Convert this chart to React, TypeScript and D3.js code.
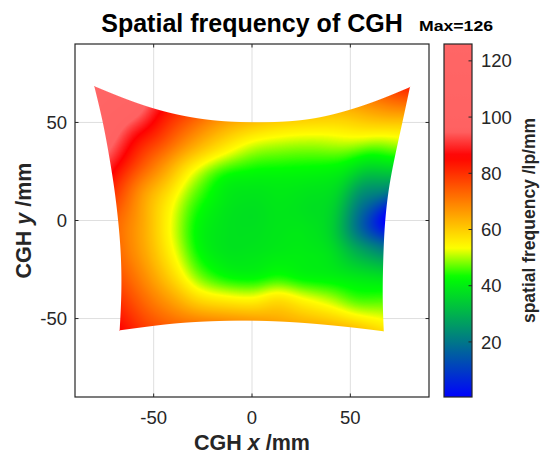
import React, { useMemo } from 'react';
import * as d3 from 'd3';

const WIDTH = 541;
const HEIGHT = 457;

// Axis limits (mm) and tick values
const xLimits = [-90, 90];
const yLimits = [-90, 90];
const xTickValues = [-50, 0, 50];
const yTickValues = [-50, 0, 50];
const colorLimits = [0.4, 126];
const colorTickValues = [20, 40, 60, 80, 100, 120];

// Hologram aperture outline (mm). Top/bottom edges run left to right,
// left/right edges run bottom to top; shared end points are the corners.
const topEdgeX = [-80.2, -64.15, -48.1, -32.05, -16.0, 0.05, 16.1, 32.15, 48.2, 64.25, 80.3];
const topEdgeY = [68.5, 61.8, 56.3, 52.6, 50.5, 50.0, 50.2, 51.8, 55.8, 61.2, 68.0];
const bottomEdgeX = [-67.3, -53.9, -40.4, -27.0, -13.6, -0.15, 13.3, 26.7, 40.1, 53.6, 67.0];
const bottomEdgeY = [-56.0, -54.2, -52.5, -51.6, -51.1, -51.0, -51.4, -52.2, -53.4, -54.8, -56.5];
const leftEdgeX = [-67.3, -66.5, -66.3, -66.8, -68.0, -70.0, -72.8, -75.9, -80.2];
const leftEdgeY = [-56.0, -42, -28, -14, 0, 17, 34, 51, 68.5];
const rightEdgeX = [67.0, 66.4, 66.5, 66.9, 67.6, 69.5, 72.9, 76.7, 80.3];
const rightEdgeY = [-56.5, -42, -28, -14, 0, 17, 34, 51, 68.0];

// Spatial frequency (lp/mm) on the aperture's parametric grid:
// rows go bottom -> top, columns left -> right.
const frequencyRows: number[][] = [
  [86, 78, 73, 70, 68, 66.5, 65, 63.5, 62.5, 61, 58],
  [80, 72, 65, 58, 55, 54, 57, 54, 51, 47, 47],
  [75, 67, 58, 48, 43, 42, 44, 42, 41, 39, 37],
  [72, 64, 54, 43, 39, 39, 40, 40, 38, 29, 20],
  [73, 64, 53, 42, 38.5, 38, 39, 39, 35, 18, 0],
  [81, 67, 56, 45, 39.5, 38, 39, 38, 36, 24, 24],
  [94, 78, 65, 52, 43, 41, 41, 41, 41, 39, 45],
  [108, 90, 77, 65, 56, 50, 48.5, 49, 52, 56, 62],
  [126, 108, 88, 76, 67, 62, 59.5, 60, 63, 71, 82],
];

// Colormap anchors
const colorStops = [0, 43, 53.5, 86, 95, 126];
const colorValues = ['#0000ff', '#00ff00', '#ffff00', '#ff0000', '#ff6262', '#ff6666'];

const PLOT = { left: 75, right: 429, top: 44, bottom: 397 };
const CBAR = { left: 444, right: 472 };

const xScale = d3.scaleLinear().domain(xLimits).range([PLOT.left, PLOT.right]);
const yScale = d3.scaleLinear().domain(yLimits).range([PLOT.bottom, PLOT.top]);
const cScale = d3.scaleLinear().domain(colorLimits).range([PLOT.bottom, PLOT.top]);
const colorScale = d3
  .scaleLinear<string>()
  .domain(colorStops)
  .range(colorValues)
  .interpolate(d3.interpolateRgb)
  .clamp(true);

// Smooth edge curve with linear continuation past its ends
function makeEdge(values: number[]) {
  const f = d3.interpolateBasis(values);
  const N = 800;
  const lut = new Float64Array(N + 1);
  for (let k = 0; k <= N; k++) lut[k] = f(k / N);
  return (t: number) => {
    if (t <= 0) return lut[0] + (lut[1] - lut[0]) * N * t;
    if (t >= 1) return lut[N] + (lut[N] - lut[N - 1]) * N * (t - 1);
    const s = t * N;
    const k = Math.min(N - 1, Math.floor(s));
    return lut[k] + (lut[k + 1] - lut[k]) * (s - k);
  };
}

function gridValue(i: number, j: number): number {
  const nR = frequencyRows.length;
  const nC = frequencyRows[0].length;
  if (i < 0) return 2 * gridValue(0, j) - gridValue(1, j);
  if (i > nC - 1) return 2 * gridValue(nC - 1, j) - gridValue(nC - 2, j);
  if (j < 0) return 2 * gridValue(i, 0) - gridValue(i, 1);
  if (j > nR - 1) return 2 * gridValue(i, nR - 1) - gridValue(i, nR - 2);
  return frequencyRows[j][i];
}

function catmull(p0: number, p1: number, p2: number, p3: number, t: number) {
  return 0.5 * (2 * p1 + (-p0 + p2) * t + (2 * p0 - 5 * p1 + 4 * p2 - p3) * t * t + (-p0 + 3 * p1 - 3 * p2 + p3) * t * t * t);
}

function frequencyAt(u: number, v: number) {
  const nR = frequencyRows.length;
  const nC = frequencyRows[0].length;
  const s = u * (nC - 1);
  const t = v * (nR - 1);
  const i = Math.max(0, Math.min(nC - 2, Math.floor(s)));
  const j = Math.max(0, Math.min(nR - 2, Math.floor(t)));
  const fs = s - i;
  const ft = t - j;
  const col: number[] = [];
  for (let dj = -1; dj <= 2; dj++) {
    col.push(catmull(gridValue(i - 1, j + dj), gridValue(i, j + dj), gridValue(i + 1, j + dj), gridValue(i + 2, j + dj), fs));
  }
  return catmull(col[0], col[1], col[2], col[3], ft);
}

function renderSurface(): string {
  const w = PLOT.right - PLOT.left;
  const h = PLOT.bottom - PLOT.top;
  const canvas = document.createElement('canvas');
  canvas.width = w;
  canvas.height = h;
  const ctx = canvas.getContext('2d');
  if (!ctx) return '';
  const image = ctx.createImageData(w, h);
  const px = image.data;

  const TX = makeEdge(topEdgeX.map((d) => xScale(d)));
  const TY = makeEdge(topEdgeY.map((d) => yScale(d)));
  const BX = makeEdge(bottomEdgeX.map((d) => xScale(d)));
  const BY = makeEdge(bottomEdgeY.map((d) => yScale(d)));
  const LX = makeEdge(leftEdgeX.map((d) => xScale(d)));
  const LY = makeEdge(leftEdgeY.map((d) => yScale(d)));
  const RX = makeEdge(rightEdgeX.map((d) => xScale(d)));
  const RY = makeEdge(rightEdgeY.map((d) => yScale(d)));
  const c00 = [BX(0), BY(0)];
  const c10 = [BX(1), BY(1)];
  const c01 = [TX(0), TY(0)];
  const c11 = [TX(1), TY(1)];

  // Coons patch through the four edges (screen coordinates)
  const patch = (u: number, v: number): [number, number] => {
    const a = (1 - u) * (1 - v), b = u * (1 - v), c = (1 - u) * v, d = u * v;
    const x = (1 - v) * BX(u) + v * TX(u) + (1 - u) * LX(v) + u * RX(v) - (a * c00[0] + b * c10[0] + c * c01[0] + d * c11[0]);
    const y = (1 - v) * BY(u) + v * TY(u) + (1 - u) * LY(v) + u * RY(v) - (a * c00[1] + b * c10[1] + c * c01[1] + d * c11[1]);
    return [x, y];
  };

  // Colour lookup table
  const LUTN = 1024;
  const lutR = new Uint8Array(LUTN + 1), lutG = new Uint8Array(LUTN + 1), lutB = new Uint8Array(LUTN + 1);
  for (let k = 0; k <= LUTN; k++) {
    const c = d3.rgb(colorScale(colorLimits[0] + ((colorLimits[1] - colorLimits[0]) * k) / LUTN));
    lutR[k] = c.r; lutG[k] = c.g; lutB[k] = c.b;
  }

  const hd = 1e-4;
  const gx0 = xScale(-74), gx1 = xScale(74), gy0 = yScale(-54), gy1 = yScale(60);
  for (let row = 0; row < h; row++) {
    let u = 0.5, v = 0.5, warm = false;
    for (let col = 0; col < w; col++) {
      const X = PLOT.left + col + 0.5;
      const Y = PLOT.top + row + 0.5;
      if (!warm) {
        u = (X - gx0) / (gx1 - gx0);
        v = (Y - gy0) / (gy1 - gy0);
      }
      let conv = false;
      let xu = 1, xv = 0, yu = 0, yv = 1, det = 1;
      for (let it = 0; it < 14; it++) {
        const p = patch(u, v);
        const pu = patch(u + hd, v);
        const pv = patch(u, v + hd);
        xu = (pu[0] - p[0]) / hd; yu = (pu[1] - p[1]) / hd;
        xv = (pv[0] - p[0]) / hd; yv = (pv[1] - p[1]) / hd;
        det = xu * yv - xv * yu;
        const dx = X - p[0], dy = Y - p[1];
        if (Math.abs(dx) + Math.abs(dy) < 1e-3) { conv = true; break; }
        if (!isFinite(det) || Math.abs(det) < 1e-9) break;
        u += (yv * dx - xv * dy) / det;
        v += (-yu * dx + xu * dy) / det;
        if (Math.abs(u - 0.5) > 1.5 || Math.abs(v - 0.5) > 1.5) break;
      }
      const idx = (row * w + col) * 4;
      if (!conv) { warm = false; px[idx + 3] = 0; continue; }
      warm = Math.abs(u - 0.5) < 0.9 && Math.abs(v - 0.5) < 0.9;
      const adet = Math.abs(det);
      const gu = Math.hypot(yv, xv) / adet;
      const gv = Math.hypot(yu, xu) / adet;
      const dist = Math.min(u / gu, (1 - u) / gu, v / gv, (1 - v) / gv);
      const alpha = Math.max(0, Math.min(1, dist + 0.5));
      if (alpha <= 0) { px[idx + 3] = 0; continue; }
      const uc = Math.max(0, Math.min(1, u));
      const vc = Math.max(0, Math.min(1, v));
      const f = frequencyAt(uc, vc);
      let k = Math.round(((f - colorLimits[0]) / (colorLimits[1] - colorLimits[0])) * LUTN);
      k = Math.max(0, Math.min(LUTN, k));
      px[idx] = lutR[k];
      px[idx + 1] = lutG[k];
      px[idx + 2] = lutB[k];
      px[idx + 3] = Math.round(alpha * 255);
    }
  }
  ctx.putImageData(image, 0, 0);
  return canvas.toDataURL('image/png');
}

const FONT = "'Liberation Sans', Arial, Helvetica, sans-serif";
const AXIS_COLOR = '#262626';
const GRID_COLOR = '#dfdfdf';
const TICK_LEN = 3.5;

export default function App() {
  const surfaceHref = useMemo(() => renderSurface(), []);
  const maxValue = d3.max(frequencyRows.flat()) ?? 0;

  const gradientStops = d3.range(0, 65).map((k) => {
    const t = k / 64;
    const value = colorLimits[0] + t * (colorLimits[1] - colorLimits[0]);
    return { offset: t, color: colorScale(value) };
  });

  return (
    <svg
      width={WIDTH}
      height={HEIGHT}
      viewBox={`0 0 ${WIDTH} ${HEIGHT}`}
      style={{ position: 'absolute', left: 0, top: 0, display: 'block' }}
      fontFamily={FONT}
    >
      <defs>
        <linearGradient id="cmapGradient" x1="0" y1="1" x2="0" y2="0">
          {gradientStops.map((s, i) => (
            <stop key={i} offset={s.offset} stopColor={s.color} />
          ))}
        </linearGradient>
      </defs>
      <rect width={WIDTH} height={HEIGHT} fill="#ffffff" />

      {/* grid lines */}
      {xTickValues.map((t) => (
        <line key={`gx${t}`} x1={xScale(t)} x2={xScale(t)} y1={PLOT.top} y2={PLOT.bottom} stroke={GRID_COLOR} strokeWidth={1} />
      ))}
      {yTickValues.map((t) => (
        <line key={`gy${t}`} x1={PLOT.left} x2={PLOT.right} y1={yScale(t)} y2={yScale(t)} stroke={GRID_COLOR} strokeWidth={1} />
      ))}

      {/* frequency surface */}
      <image href={surfaceHref} x={PLOT.left} y={PLOT.top} width={PLOT.right - PLOT.left} height={PLOT.bottom - PLOT.top} />

      {/* axes box and ticks */}
      <rect x={PLOT.left} y={PLOT.top} width={PLOT.right - PLOT.left} height={PLOT.bottom - PLOT.top} fill="none" stroke={AXIS_COLOR} strokeWidth={1.2} />
      {xTickValues.map((t) => (
        <g key={`tx${t}`}>
          <line x1={xScale(t)} x2={xScale(t)} y1={PLOT.bottom} y2={PLOT.bottom - TICK_LEN} stroke={AXIS_COLOR} />
          <line x1={xScale(t)} x2={xScale(t)} y1={PLOT.top} y2={PLOT.top + TICK_LEN} stroke={AXIS_COLOR} />
          <text x={xScale(t)} y={424} textAnchor="middle" fontSize={18.5} fill={AXIS_COLOR}>
            {t}
          </text>
        </g>
      ))}
      {yTickValues.map((t) => (
        <g key={`ty${t}`}>
          <line x1={PLOT.left} x2={PLOT.left + TICK_LEN} y1={yScale(t)} y2={yScale(t)} stroke={AXIS_COLOR} />
          <line x1={PLOT.right} x2={PLOT.right - TICK_LEN} y1={yScale(t)} y2={yScale(t)} stroke={AXIS_COLOR} />
          <text x={67} y={yScale(t) + 6.6} textAnchor="end" fontSize={18.5} fill={AXIS_COLOR}>
            {t}
          </text>
        </g>
      ))}

      {/* titles */}
      <text x={(PLOT.left + PLOT.right) / 2} y={32} textAnchor="middle" fontSize={25} fontWeight="bold" fill="#000">
        Spatial frequency of CGH
      </text>
      <text x={419} y={31} fontSize={14.5} fontWeight="bold" fill="#000" textLength={74} lengthAdjust="spacingAndGlyphs">
        {`Max=${Math.round(maxValue)}`}
      </text>
      <text x={(PLOT.left + PLOT.right) / 2} y={450} textAnchor="middle" fontSize={21.5} fontWeight="bold" fill={AXIS_COLOR}>
        <tspan>CGH </tspan>
        <tspan fontStyle="italic">x</tspan>
        <tspan> /mm</tspan>
      </text>
      <text transform={`translate(31, ${(PLOT.top + PLOT.bottom) / 2}) rotate(-90)`} textAnchor="middle" fontSize={21.5} fontWeight="bold" fill={AXIS_COLOR}>
        <tspan>CGH </tspan>
        <tspan fontStyle="italic">y</tspan>
        <tspan> /mm</tspan>
      </text>

      {/* colorbar */}
      <rect x={CBAR.left} y={PLOT.top} width={CBAR.right - CBAR.left} height={PLOT.bottom - PLOT.top} fill="url(#cmapGradient)" stroke={AXIS_COLOR} strokeWidth={1.2} />
      {colorTickValues.map((t) => (
        <g key={`ct${t}`}>
          <line x1={CBAR.right} x2={CBAR.right - TICK_LEN} y1={cScale(t)} y2={cScale(t)} stroke={AXIS_COLOR} />
          <text x={481} y={cScale(t) + 6.6} fontSize={18.5} fill={AXIS_COLOR}>
            {t}
          </text>
        </g>
      ))}
      <text transform={`translate(535, ${(PLOT.top + PLOT.bottom) / 2}) rotate(-90)`} textAnchor="middle" fontSize={17.5} fontWeight="bold" fill={AXIS_COLOR}>
        spatial frequency /lp/mm
      </text>
    </svg>
  );
}
